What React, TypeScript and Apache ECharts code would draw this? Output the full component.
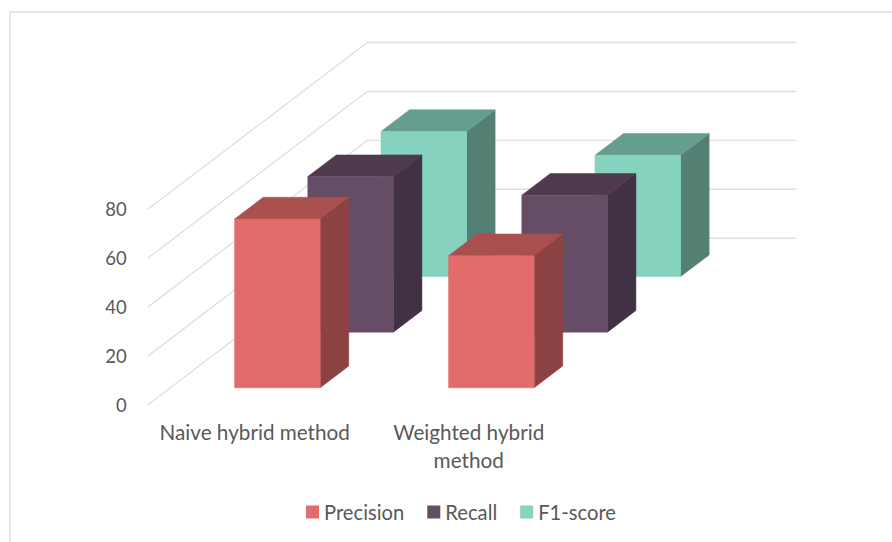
import React, { useEffect, useRef } from "react";
import * as echarts from "echarts";

const categories = ["Naive hybrid method", "Weighted hybrid\nmethod"];
const precision = [69, 54];
const recall = [63.6, 56];
const f1Score = [59.3, 49.6];
const gridTicks = [0, 20, 40, 60, 80];

const seriesNames = ["Precision", "Recall", "F1-score"];
const faceColors = ["#E26B6B", "#664D66", "#85D3BF"];
const sideColors = ["#8C4242", "#423144", "#548074"];
const topColors = ["#A94F4E", "#503A4E", "#659D8E"];

// Oblique projection: one depth row shifts a point right and up by these amounts.
const ROW_DX = 73.2;
const ROW_DY = 55.6;
const ROW_COUNT = 3;
const BAR_START = 0.31;
const BAR_DEPTH = 0.39;
const BAR_WIDTH_RATIO = 0.4;
const WALL_OVERHANG = 1;

const gridColor = "#E0E0E0";
const textColor = "#595959";
const fontFamily = "Lato, 'Noto Sans', sans-serif";

type Pt = [number, number];
const shift = (p: Pt, depth: number): Pt => [p[0] + ROW_DX * depth, p[1] - ROW_DY * depth];

function polygon(points: Pt[], fill: string) {
  return {
    type: "polygon",
    shape: { points },
    style: { fill, stroke: fill, lineWidth: 0.5 },
  };
}

function barRenderer(row: number) {
  return (_params: any, api: any) => {
    const center = api.coord([api.value(0), 0]);
    const topCenter = api.coord([api.value(0), api.value(1)]);
    const half = (api.size([1, 0])[0] * BAR_WIDTH_RATIO) / 2;
    const d0 = row + BAR_START;
    const d1 = d0 + BAR_DEPTH;

    const baseL: Pt = [center[0] - half, center[1]];
    const baseR: Pt = [center[0] + half, center[1]];
    const topL: Pt = [center[0] - half, topCenter[1]];
    const topR: Pt = [center[0] + half, topCenter[1]];

    return {
      type: "group",
      children: [
        polygon([shift(baseR, d0), shift(baseR, d1), shift(topR, d1), shift(topR, d0)], sideColors[row]),
        polygon([shift(topL, d0), shift(topR, d0), shift(topR, d1), shift(topL, d1)], topColors[row]),
        polygon([shift(baseL, d0), shift(baseR, d0), shift(topR, d0), shift(topL, d0)], faceColors[row]),
      ],
    };
  };
}

// Floor-to-wall gridline for one tick: runs back along the side wall, then across the rear wall.
function gridlineRenderer(_params: any, api: any) {
  const mid = api.coord([0, api.value(1)]);
  const band = api.size([1, 0])[0];
  const front: Pt = [mid[0] - band / 2, mid[1]];
  const corner = shift(front, ROW_COUNT);
  const end: Pt = [corner[0] + band * categories.length + WALL_OVERHANG, corner[1]];
  return {
    type: "polyline",
    shape: { points: [front, corner, end] },
    style: { stroke: gridColor, lineWidth: 1.4, fill: "none" },
  };
}

function barSeries(row: number, values: number[]) {
  return {
    type: "custom",
    name: seriesNames[row],
    coordinateSystem: "cartesian2d",
    clip: false,
    z: 5 - row,
    itemStyle: { color: faceColors[row] },
    encode: { x: 0, y: 1 },
    data: values.map((v, i) => [i, v]),
    renderItem: barRenderer(row),
  };
}

export default function App() {
  const ref = useRef<HTMLDivElement>(null);

  useEffect(() => {
    const chart = echarts.init(ref.current!, undefined, { renderer: "svg" });
    chart.setOption({
      animation: false,
      backgroundColor: "#FFFFFF",
      textStyle: { fontFamily },
      grid: { left: 147.7, width: 428, top: 209.3, height: 195.7, containLabel: false },
      xAxis: {
        type: "category",
        data: categories,
        axisLine: { show: false },
        axisTick: { show: false },
        splitLine: { show: false },
        axisLabel: {
          color: textColor,
          fontSize: 20.7,
          fontFamily,
          lineHeight: 28,
          margin: 13,
          interval: 0,
        },
      },
      yAxis: {
        type: "value",
        min: 0,
        max: 80,
        interval: 20,
        axisLine: { show: false },
        axisTick: { show: false },
        splitLine: { show: false },
        axisLabel: { color: textColor, fontSize: 18.5, fontFamily, margin: 21, padding: [0, 0, 2, 0] },
      },
      legend: {
        data: seriesNames,
        left: 306,
        top: 502,
        itemWidth: 13,
        itemHeight: 13,
        itemGap: 23,
        icon: "rect",
        textStyle: { color: textColor, fontSize: 20.2, fontFamily, padding: [0, 0, 4, 0] },
        padding: 0,
      },
      graphic: [
        {
          type: "polyline",
          silent: true,
          shape: { points: [[10, 542], [10, 12], [892, 12]] },
          style: { stroke: gridColor, lineWidth: 1.4, fill: "none" },
        },
      ],
      series: [
        {
          type: "custom",
          coordinateSystem: "cartesian2d",
          clip: false,
          silent: true,
          z: 1,
          encode: { x: 0, y: 1 },
          data: gridTicks.map((t) => [0, t]),
          renderItem: gridlineRenderer,
        },
        barSeries(0, precision),
        barSeries(1, recall),
        barSeries(2, f1Score),
      ],
    });
    return () => chart.dispose();
  }, []);

  return <div ref={ref} style={{ position: "absolute", left: 0, top: 0, width: 892, height: 542 }} />;
}
